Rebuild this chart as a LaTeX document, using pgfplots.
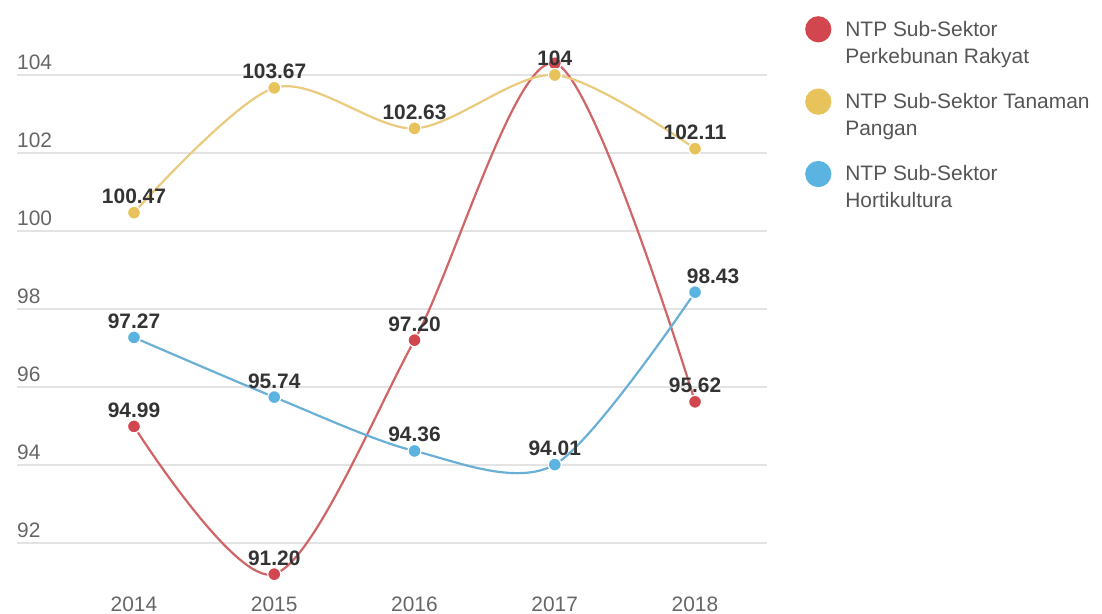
\documentclass[border=0pt]{standalone}
\usepackage{fontspec}
\setmainfont{Liberation Sans}
\usepackage{pgfplots}
\pgfplotsset{compat=1.18}
\definecolor{cred}{HTML}{D2474F}
\definecolor{credl}{HTML}{D16466}
\definecolor{cyel}{HTML}{E8C25A}
\definecolor{cyell}{HTML}{EACB7E}
\definecolor{cblu}{HTML}{5BB3E2}
\definecolor{cblul}{HTML}{6AAFD6}
\definecolor{gridc}{HTML}{E3E3E3}
\definecolor{tickc}{HTML}{666666}
\definecolor{labc}{HTML}{333333}
\definecolor{legc}{HTML}{555555}
\begin{document}
\begin{tikzpicture}
\useasboundingbox (0,0) rectangle (1102bp,614bp);
\begin{axis}[
  at={(17bp,3bp)}, anchor=south west,
  scale only axis, width=750bp, height=611bp,
  xmin=2013.166, xmax=2018.513,
  ymin=90.256, ymax=105.923,
  clip=false,
  axis line style={draw=none},
  major tick length=0,
  ytick={92,94,...,104},
  yticklabels={92,94,96,98,100,102,104},
  xtick={2014,...,2018},
  xticklabels={2014,2015,2016,2017,2018},
  ymajorgrids, major grid style={gridc, line width=1.2bp},
  yticklabel style={anchor=base west, inner xsep=0pt, yshift=5bp, font=\fontsize{21}{24}\selectfont, text=tickc},
  xticklabel style={anchor=base, font=\fontsize{21}{24}\selectfont, text=tickc},
  nodes near coords,
  point meta=explicit symbolic,
  nodes near coords style={anchor=base, yshift=9bp, font=\fontsize{21}{24}\selectfont\bfseries, text=labc},
  legend style={at={(1,1)}, anchor=north west, xshift=35bp, yshift=-14bp, draw=none, fill=none,
    font=\fontsize{21}{27}\selectfont, text=legc, row sep=22bp,
    cells={anchor=west, align=left},
    /tikz/every odd column/.append style={column sep=12bp}},
]
\addplot[color=credl, line width=2.2bp, smooth, tension=0.5, mark=*, mark size=6.5bp,
  mark options={fill=cred, draw=white, line width=1.2bp},
  legend image code/.code={\fill[cred] (12bp,13.5bp) circle (12bp);}]
  coordinates {(2014,94.99)[94.99] (2015,91.20)[91.20] (2016,97.20)[97.20] (2017,104.3)[] (2018,95.62)[95.62]};
\addplot[color=cyell, line width=2.2bp, smooth, tension=0.5, mark=*, mark size=6.5bp,
  mark options={fill=cyel, draw=white, line width=1.2bp},
  legend image code/.code={\fill[cyel] (12bp,13.5bp) circle (12bp);}]
  coordinates {(2014,100.47)[100.47] (2015,103.67)[103.67] (2016,102.63)[102.63] (2017,104.0)[104] (2018,102.11)[102.11]};
\addplot[color=cblul, line width=2.2bp, smooth, tension=0.5, mark=*, mark size=6.5bp,
  mark options={fill=cblu, draw=white, line width=1.2bp},
  legend image code/.code={\fill[cblu] (12bp,13.5bp) circle (12bp);}]
  coordinates {(2014,97.27)[97.27] (2015,95.74)[95.74] (2016,94.36)[94.36] (2017,94.01)[94.01] (2018,98.43)[]};
\addplot[draw=none, mark=none, forget plot, nodes near coords style={xshift=18bp}]
  coordinates {(2018,98.43)[98.43]};
\legend{NTP Sub-Sektor\\Perkebunan Rakyat, NTP Sub-Sektor Tanaman\\Pangan, NTP Sub-Sektor\\Hortikultura}
\end{axis}
\end{tikzpicture}
\end{document}
